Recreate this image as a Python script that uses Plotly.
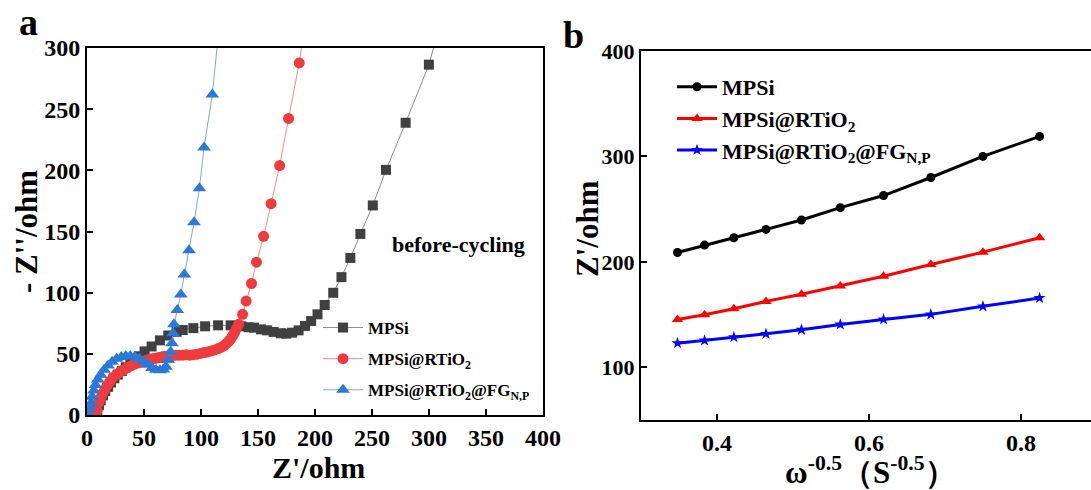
import plotly.graph_objects as go

# ---------------- Panel a: Nyquist data ----------------
mpsi_x = [8, 9, 10.5, 12, 14, 16, 18.5, 21, 24, 27, 30.5, 34, 38, 42, 46, 50.5, 56.7, 64, 71.3, 78.6,
          84, 93.3, 103.6, 115, 126, 135.5, 141.8, 146.5, 152.7, 158, 163.7, 170, 174.7, 180, 185.6,
          191.2, 196.6, 202.2, 208.5, 216, 223.2, 231, 239.8, 250.7, 262.3, 279.5, 299.9, 312]
mpsi_y = [0, 4, 8, 12, 16, 19.5, 23, 26.5, 30, 33, 36, 39, 42, 45, 48, 52, 56, 61, 65, 68,
          69.5, 71, 72.5, 73.3, 73.3, 72.5, 71.7, 71.4, 70, 69.2, 67.9, 66.8, 66.5, 67.3, 69.2,
          72.8, 76.8, 82.3, 89.9, 99.9, 112.7, 128.4, 148, 171.3, 200.4, 238.9, 286.4, 327]

rtio2_x = [7.8, 8.8, 10.3, 12, 13.5, 15.5, 17.5, 20, 22.8, 26, 29.1, 32.2, 35.4, 38.5, 41.6, 44.8,
           47.9, 50.7, 53.5, 56.2, 58.8, 61.2, 63.5, 65.4, 67.3, 69.8, 72.3, 75, 77.6, 80.7, 83.9,
           87, 90.1, 93.2, 96.4, 99.5, 102.7, 105.8, 108.9, 112, 115.2, 118, 120.5, 122.6, 124.6,
           126.2, 127.7, 129.3, 130.8, 133, 136.5, 139.6, 144.3, 148.7, 154.9, 161.5, 169, 176.8,
           186.2, 192.5]
rtio2_y = [0, 3.5, 10.3, 14, 17.1, 20.5, 23.9, 27.3, 30.7, 33, 35.3, 37, 38.8, 40.2, 41.5, 42.5,
           43.4, 44.3, 45.1, 45.7, 46.2, 46.6, 47, 47.4, 47.8, 48, 48.3, 48.6, 48.9, 48.9, 48.9,
           49.2, 48.9, 49.3, 49.7, 50.3, 51, 51.6, 52.4, 53.2, 54.3, 55.5, 57, 58.7, 60.5,
           62.5, 64.6, 67, 70, 74.1, 82.3, 93.1, 107.5, 124.9, 146.1, 172.7, 203.9, 242.4,
           287.8, 328]

fg_x = [1.5, 2.5, 3.5, 4.5, 6, 7.5, 9.5, 12, 15, 18.5, 22, 26, 30, 34, 38, 42, 46, 50, 53.5, 57,
        60.5, 64, 67, 69.3, 71.3, 73.3, 74.5, 75.5, 76.3, 79.2, 82.3, 85.4, 89.5, 93.9, 98.6,
        102.7, 109.9, 117]
fg_y = [0, 5, 10, 15, 20, 24.5, 29, 33, 37, 40.5, 43.5, 46, 47.5, 48.3, 48.3, 47.6, 46, 43.5, 41, 38.5,
        37, 36.5, 37.2, 39.5, 45, 51.8, 58.6, 66.8, 74.1, 85.8, 98.6, 114.8, 134.7, 157.5, 185.4,
        218.6, 262, 327]

a_xticks = [0, 50, 100, 150, 200, 250, 300, 350, 400]
a_yticks = [0, 50, 100, 150, 200, 250, 300]

# ---------------- Panel b: Z' vs omega^-0.5 ----------------
omega_x = [0.348, 0.3836, 0.4222, 0.4644, 0.5111, 0.5622, 0.6191, 0.6813, 0.7498, 0.8244]
b_mpsi = [208.9, 215.9, 222.9, 230.8, 239.7, 251.4, 262.9, 280.0, 300.0, 319.0]
b_rtio2 = [145.4, 149.8, 155.6, 162.5, 169.2, 177.1, 186.3, 197.5, 209.2, 222.9]
b_fg = [122.9, 125.4, 128.6, 131.7, 135.6, 140.6, 145.4, 150.2, 157.8, 165.7]

b_xticks = [0.4, 0.6, 0.8]
b_yticks = [100, 200, 300, 400]

names = ["MPSi", "MPSi@RTiO<sub>2</sub>", "MPSi@RTiO<sub>2</sub>@FG<sub>N,P</sub>"]

SERIF = "Liberation Serif, Times New Roman, serif"

fig = go.Figure()

# Panel a traces
fig.add_trace(go.Scatter(x=mpsi_x, y=mpsi_y, mode="lines+markers", name=names[0],
                         line=dict(color="#8a8a8a", width=1),
                         marker=dict(symbol="square", size=10, color="#404040"),
                         xaxis="x", yaxis="y", legend="legend", legendgroup="a1"))
fig.add_trace(go.Scatter(x=rtio2_x, y=rtio2_y, mode="lines+markers", name=names[1],
                         line=dict(color="#f28a8a", width=1),
                         marker=dict(symbol="circle", size=11, color="#ef3b3b"),
                         xaxis="x", yaxis="y", legend="legend", legendgroup="a2"))
fig.add_trace(go.Scatter(x=fg_x, y=fg_y, mode="lines+markers", name=names[2],
                         line=dict(color="#7aa8e8", width=1),
                         marker=dict(symbol="triangle-up", size=12, color="#2a78d8"),
                         xaxis="x", yaxis="y", legend="legend", legendgroup="a3"))

# Panel b traces
fig.add_trace(go.Scatter(x=omega_x, y=b_mpsi, mode="lines+markers", name=names[0],
                         line=dict(color="black", width=3),
                         marker=dict(symbol="circle", size=9, color="black"),
                         xaxis="x2", yaxis="y2", legend="legend2", legendgroup="b1"))
fig.add_trace(go.Scatter(x=omega_x, y=b_rtio2, mode="lines+markers", name=names[1],
                         line=dict(color="#ff0000", width=3),
                         marker=dict(symbol="triangle-up", size=10, color="#ff0000"),
                         xaxis="x2", yaxis="y2", legend="legend2", legendgroup="b2"))
fig.add_trace(go.Scatter(x=omega_x, y=b_fg, mode="lines+markers", name=names[2],
                         line=dict(color="#0000ff", width=3),
                         marker=dict(symbol="star", size=9, color="#0000ff"),
                         xaxis="x2", yaxis="y2", legend="legend2", legendgroup="b3"))

axis_common = dict(showline=True, linecolor="black", linewidth=2, ticks="inside",
                   ticklen=6, tickwidth=2, tickcolor="black", showgrid=False, zeroline=False,
                   automargin=False)


def bold_ticks(vals, fmt="{:g}"):
    return [f"<b>{fmt.format(v)}</b>" for v in vals]


fig.update_layout(
    width=1091, height=490,
    margin=dict(l=0, r=0, t=0, b=0, pad=0),
    paper_bgcolor="white", plot_bgcolor="white",
    font=dict(family=SERIF, color="black"),
    xaxis=dict(domain=[87/1091, 543/1091], range=[0, 400], mirror=True, anchor="y",
               tickvals=a_xticks, ticktext=bold_ticks(a_xticks),
               tickfont=dict(family=SERIF, size=24, color="black"), **axis_common),
    yaxis=dict(domain=[75/490, 442/490], range=[0, 300], mirror=True, anchor="x",
               tickvals=a_yticks, ticktext=bold_ticks(a_yticks),
               tickfont=dict(family=SERIF, size=24, color="black"), **axis_common),
    xaxis2=dict(domain=[641/1091, 1.0], range=[0.3, 0.892], mirror=True, anchor="y2",
                tickvals=b_xticks, ticktext=bold_ticks(b_xticks, "{:.1f}"),
                tickfont=dict(family=SERIF, size=24, color="black"), **axis_common),
    yaxis2=dict(domain=[70/490, 439/490], range=[50, 400], mirror=False, anchor="x2",
                tickvals=b_yticks, ticktext=bold_ticks(b_yticks),
                tickfont=dict(family=SERIF, size=22, color="black"), **axis_common),
    legend=dict(x=318/1091, xanchor="left", y=(490-310)/490, yanchor="top",
                bgcolor="rgba(0,0,0,0)", font=dict(family=SERIF, size=17, color="black"),
                tracegroupgap=6, itemwidth=40),
    legend2=dict(x=672/1091, xanchor="left", y=(490-66)/490, yanchor="top",
                 bgcolor="rgba(0,0,0,0)", font=dict(family=SERIF, size=22, color="black"),
                 tracegroupgap=0, itemwidth=40),
    showlegend=True,
)

# bold legend names
for tr in fig.data:
    tr.name = f"<b>{tr.name}</b>"

ann_font = lambda s: dict(family=SERIF, size=s, color="black")
fig.add_annotation(text="<b>a</b>", x=28/1091, y=1-22/490, xref="paper", yref="paper",
                   showarrow=False, font=ann_font(38), xanchor="center", yanchor="middle")
fig.add_annotation(text="<b>b</b>", x=573/1091, y=1-35/490, xref="paper", yref="paper",
                   showarrow=False, font=ann_font(38), xanchor="center", yanchor="middle")
fig.add_annotation(text="<b>before-cycling</b>", x=458/1091, y=1-244/490, xref="paper", yref="paper",
                   showarrow=False, font=ann_font(22), xanchor="center", yanchor="middle")
fig.add_annotation(text="<b>Z'/ohm</b>", x=318/1091, y=1-467/490, xref="paper", yref="paper",
                   showarrow=False, font=ann_font(30), xanchor="center", yanchor="middle")
fig.add_annotation(text="<b>- Z''/ohm</b>", x=26/1091, y=1-232/490, xref="paper", yref="paper",
                   showarrow=False, font=ann_font(31), xanchor="center", yanchor="middle",
                   textangle=-90)
fig.add_annotation(text="<b>Z'/ohm</b>", x=587/1091, y=1-229/490, xref="paper", yref="paper",
                   showarrow=False, font=ann_font(31), xanchor="center", yanchor="middle",
                   textangle=-90)
fig.add_annotation(text="<b>ω<sup>-0.5</sup>（S<sup>-0.5</sup>）</b>", x=870/1091, y=1-470/490,
                   xref="paper", yref="paper", showarrow=False, font=ann_font(31),
                   xanchor="center", yanchor="middle")

fig.write_html("out.html", post_script="document.body.style.margin='0';")
